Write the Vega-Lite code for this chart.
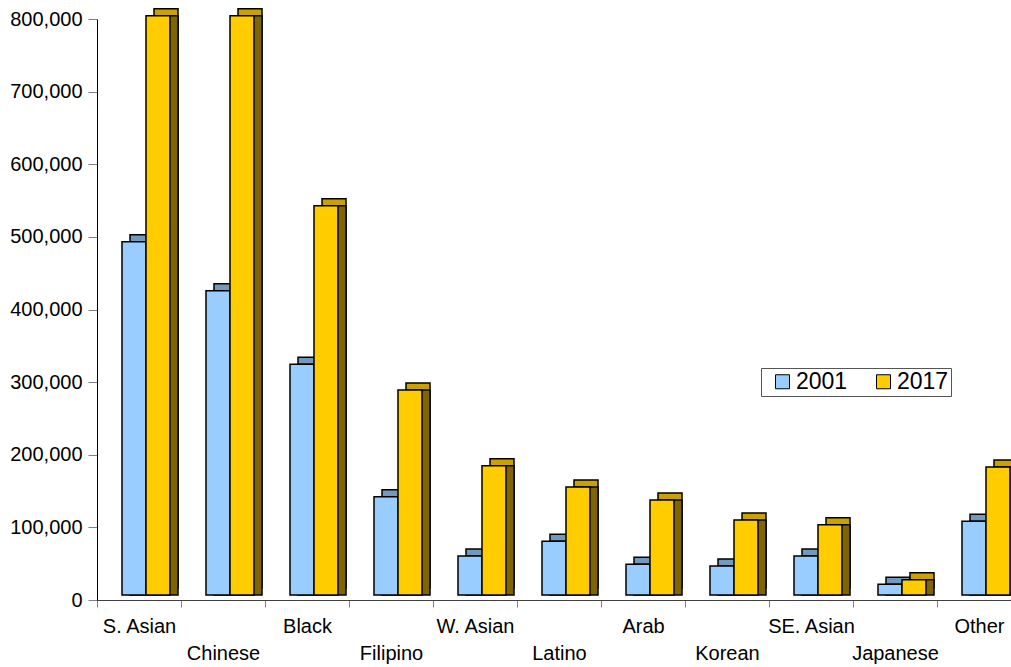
{
  "$schema": "https://vega.github.io/schema/vega-lite/v6.json",
  "width": 914,
  "height": 581,
  "autosize": {"type": "none"},
  "padding": {"left": 97, "top": 19, "right": 0, "bottom": 67},
  "background": "white",
  "config": {
    "view": {"stroke": null},
    "font": "Liberation Sans"
  },
  "data": {
    "values": [
      {"group": "S. Asian", "year": "2001", "value": 486500},
      {"group": "S. Asian", "year": "2017", "value": 797700},
      {"group": "Chinese", "year": "2001", "value": 419000},
      {"group": "Chinese", "year": "2017", "value": 797700},
      {"group": "Black", "year": "2001", "value": 317700},
      {"group": "Black", "year": "2017", "value": 536000},
      {"group": "Filipino", "year": "2001", "value": 135400},
      {"group": "Filipino", "year": "2017", "value": 282300},
      {"group": "W. Asian", "year": "2001", "value": 53700},
      {"group": "W. Asian", "year": "2017", "value": 178000},
      {"group": "Latino", "year": "2001", "value": 74000},
      {"group": "Latino", "year": "2017", "value": 148700},
      {"group": "Arab", "year": "2001", "value": 42300},
      {"group": "Arab", "year": "2017", "value": 130800},
      {"group": "Korean", "year": "2001", "value": 40000},
      {"group": "Korean", "year": "2017", "value": 103300},
      {"group": "SE. Asian", "year": "2001", "value": 53700},
      {"group": "SE. Asian", "year": "2017", "value": 96800},
      {"group": "Japanese", "year": "2001", "value": 14700},
      {"group": "Japanese", "year": "2017", "value": 21000},
      {"group": "Other", "year": "2001", "value": 101500},
      {"group": "Other", "year": "2017", "value": 176200}
    ]
  },
  "encoding": {
    "x": {
      "field": "group",
      "type": "nominal",
      "sort": null,
      "title": null,
      "scale": {"range": [0, 924], "paddingInner": 0, "paddingOuter": 0},
      "axis": {
        "domainColor": "#404040",
        "domainWidth": 1,
        "tickColor": "#808080",
        "tickSize": 7,
        "tickBand": "extent",
        "labelAngle": 0,
        "labelFont": "Liberation Sans",
        "labelFontSize": 20,
        "labelColor": "black",
        "labelPadding": {
          "condition": {"test": "indexof(['Chinese','Filipino','Latino','Korean','Japanese'], datum.value) >= 0", "value": 36},
          "value": 9
        },
        "labelOverlap": false
      }
    },
    "y": {
      "field": "value",
      "type": "quantitative",
      "title": null,
      "scale": {"domain": [0, 800000], "nice": false},
      "axis": {
        "values": [0, 100000, 200000, 300000, 400000, 500000, 600000, 700000, 800000],
        "format": ",d",
        "grid": false,
        "domainColor": "black",
        "domainWidth": 1,
        "tickColor": "#808080",
        "tickSize": 9,
        "labelPadding": 6,
        "labelFont": "Liberation Sans",
        "labelFontSize": 20,
        "labelColor": "black"
      }
    }
  },
  "layer": [
    {
      "mark": {"type": "bar", "yOffset": -12, "stroke": "black", "strokeWidth": 1.5},
      "encoding": {
        "xOffset": {
          "field": "year",
          "type": "nominal",
          "scale": {"range": [33, 81], "paddingInner": 0, "paddingOuter": 0}
        },
        "fill": {"condition": {"test": "datum.year == '2001'", "value": "#7399BF"}, "value": "#C9A200"}
      }
    },
    {
      "mark": {"type": "bar", "yOffset": -5, "stroke": "black", "strokeWidth": 1.5},
      "encoding": {
        "xOffset": {
          "field": "year",
          "type": "nominal",
          "scale": {"range": [33, 81], "paddingInner": 0, "paddingOuter": 0}
        },
        "fill": {"condition": {"test": "datum.year == '2001'", "value": "#4D6680"}, "value": "#806600"}
      }
    },
    {
      "mark": {"type": "bar", "yOffset": -5, "stroke": "black", "strokeWidth": 1.5},
      "encoding": {
        "xOffset": {
          "field": "year",
          "type": "nominal",
          "scale": {"range": [25, 73], "paddingInner": 0, "paddingOuter": 0}
        },
        "fill": {
          "field": "year",
          "type": "nominal",
          "scale": {"domain": ["2001", "2017"], "range": ["#99CCFF", "#FFCC00"]},
          "legend": {
            "title": null,
            "orient": "none",
            "direction": "horizontal",
            "legendX": 664,
            "legendY": 349,
            "padding": 2,
            "symbolOffset": 8,
            "symbolType": "square",
            "symbolSize": 196,
            "symbolStrokeColor": "black",
            "symbolStrokeWidth": 1,
            "labelFont": "Liberation Sans",
            "labelFontSize": 23,
            "labelColor": "black",
            "labelOffset": 2,
            "columnPadding": 16,
            "labelExpr": "datum.label + '\u00a0\u00a0'",
            "fillColor": "white",
            "strokeColor": "#555555"
          }
        }
      }
    }
  ],
  "resolve": {"scale": {"xOffset": "independent"}}
}
